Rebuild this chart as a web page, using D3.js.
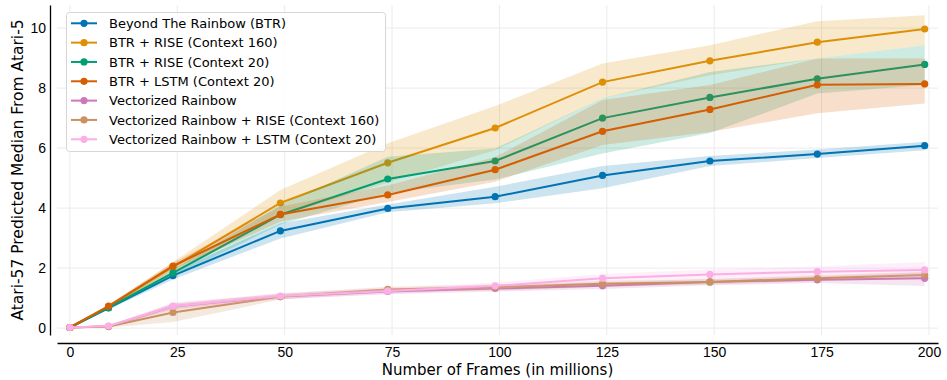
<!DOCTYPE html>
<html>
<head>
<meta charset="utf-8">
<script src="https://cdn.jsdelivr.net/npm/d3@7"></script>
<style>
  body { margin: 0; background: #fff; }
  svg { font-family: "DejaVu Sans", sans-serif; display: block; }
  .grid line { stroke: #ebebeb; stroke-width: 1; }
  .axis .domain { stroke: #000; stroke-width: 1.3; }
  .axis text { font-size: 14px; fill: #000; }
  .label { font-size: 15px; fill: #000; }
  .ylabel { font-size: 15.5px; }
  .legend text { font-size: 13px; fill: #000; }
</style>
</head>
<body>
<div id="chart"></div>
<script>
var frames = [0, 9, 24, 49, 74, 99, 124, 149, 174, 199];

var xTicks = [0, 25, 50, 75, 100, 125, 150, 175, 200],
    yTicks = [0, 2, 4, 6, 8, 10];

var names = [
  "Beyond The Rainbow (BTR)",
  "BTR + RISE (Context 160)",
  "BTR + RISE (Context 20)",
  "BTR + LSTM (Context 20)",
  "Vectorized Rainbow",
  "Vectorized Rainbow + RISE (Context 160)",
  "Vectorized Rainbow + LSTM (Context 20)"
];

// median, lower and upper bound per series
var btrMean = [0.02, 0.67, 1.75, 3.24, 3.99, 4.38, 5.09, 5.57, 5.80, 6.08],
    btrLo   = [0.02, 0.62, 1.62, 2.99, 3.86, 4.16, 4.66, 5.40, 5.67, 5.93],
    btrHi   = [0.02, 0.72, 1.88, 3.49, 4.12, 4.71, 5.40, 5.74, 5.95, 6.21];

var rise160Mean = [0.02, 0.72, 2.04, 4.17, 5.51, 6.67, 8.20, 8.91, 9.53, 9.97],
    rise160Lo   = [0.02, 0.66, 1.88, 3.75, 4.85, 5.93, 7.66, 8.43, 8.99, 9.43],
    rise160Hi   = [0.02, 0.78, 2.20, 4.60, 6.16, 7.40, 8.82, 9.43, 10.23, 10.43];

var rise20Mean = [0.02, 0.68, 1.84, 3.78, 4.97, 5.57, 7.00, 7.69, 8.31, 8.79],
    rise20Lo   = [0.02, 0.63, 1.72, 3.45, 4.50, 4.95, 5.82, 6.50, 7.82, 8.10],
    rise20Hi   = [0.02, 0.73, 1.96, 4.10, 5.71, 5.99, 7.66, 8.54, 8.99, 9.43];

var lstmMean = [0.02, 0.73, 2.07, 3.79, 4.44, 5.28, 6.56, 7.29, 8.11, 8.14],
    lstmLo   = [0.02, 0.68, 1.95, 3.55, 4.20, 4.88, 6.10, 6.54, 7.16, 7.49],
    lstmHi   = [0.02, 0.78, 2.18, 4.05, 4.75, 5.70, 7.60, 8.10, 8.99, 8.99];

var vrMean = [0.02, 0.06, 0.72, 1.05, 1.22, 1.32, 1.41, 1.54, 1.61, 1.66],
    vrLo   = [0.02, 0.03, 0.62, 0.96, 1.13, 1.22, 1.30, 1.43, 1.50, 1.40],
    vrHi   = [0.02, 0.09, 0.82, 1.14, 1.31, 1.42, 1.52, 1.65, 1.72, 1.85];

var vrRiseMean = [0.02, 0.05, 0.52, 1.05, 1.29, 1.36, 1.48, 1.54, 1.66, 1.77],
    vrRiseLo   = [0.02, 0.02, 0.20, 0.95, 1.20, 1.25, 1.38, 1.45, 1.56, 1.65],
    vrRiseHi   = [0.02, 0.08, 0.80, 1.15, 1.38, 1.45, 1.58, 1.63, 1.76, 1.88];

var vrLstmMean = [0.02, 0.07, 0.73, 1.07, 1.24, 1.41, 1.66, 1.79, 1.88, 1.94],
    vrLstmLo   = [0.02, 0.04, 0.63, 0.97, 1.14, 1.30, 1.54, 1.66, 1.72, 1.72],
    vrLstmHi   = [0.02, 0.10, 0.85, 1.17, 1.34, 1.52, 1.80, 1.95, 2.05, 2.20];

var colors = ["#0173b2", "#de8f05", "#029e73", "#d55e00", "#cc78bc", "#ca9161", "#fbafe4"];

var series = [
  {mean: btrMean, lo: btrLo, hi: btrHi},
  {mean: rise160Mean, lo: rise160Lo, hi: rise160Hi},
  {mean: rise20Mean, lo: rise20Lo, hi: rise20Hi},
  {mean: lstmMean, lo: lstmLo, hi: lstmHi},
  {mean: vrMean, lo: vrLo, hi: vrHi},
  {mean: vrRiseMean, lo: vrRiseLo, hi: vrRiseHi},
  {mean: vrLstmMean, lo: vrLstmLo, hi: vrLstmHi}
].map(function(s, i) {
  return {
    name: names[i],
    color: colors[i],
    points: frames.map(function(f, j) { return {x: f, y: s.mean[j], lo: s.lo[j], hi: s.hi[j]}; })
  };
});

var width = 947,
    height = 380,
    plotLeft = 57, plotRight = 938, plotTop = 5, plotBottom = 335;

var x = d3.scaleLinear().domain([-3, 202.1]).range([plotLeft, plotRight]);
var y = d3.scaleLinear().domain([-0.23, 10.77]).range([plotBottom, plotTop]);

var svg = d3.select("#chart").append("svg")
    .attr("width", width)
    .attr("height", height);

// grid
var grid = svg.append("g").attr("class", "grid");
grid.selectAll(".vx")
    .data(xTicks)
  .enter().append("line")
    .attr("x1", function(d) { return x(d); })
    .attr("x2", function(d) { return x(d); })
    .attr("y1", plotTop)
    .attr("y2", plotBottom);
grid.selectAll(".hy")
    .data(yTicks)
  .enter().append("line")
    .attr("x1", plotLeft)
    .attr("x2", plotRight)
    .attr("y1", function(d) { return y(d); })
    .attr("y2", function(d) { return y(d); });

var area = d3.area()
    .x(function(d) { return x(d.x); })
    .y0(function(d) { return y(d.lo); })
    .y1(function(d) { return y(d.hi); });

var line = d3.line()
    .x(function(d) { return x(d.x); })
    .y(function(d) { return y(d.y); });

var plot = svg.selectAll(".series")
    .data(series)
  .enter().append("g")
    .attr("class", "series");

plot.append("path")
    .attr("d", function(d) { return area(d.points); })
    .attr("fill", function(d) { return d.color; })
    .attr("fill-opacity", 0.2)
    .attr("stroke", "none");

plot.append("path")
    .attr("d", function(d) { return line(d.points); })
    .attr("fill", "none")
    .attr("stroke", function(d) { return d.color; })
    .attr("stroke-width", 2);

plot.selectAll("circle")
    .data(function(d) { return d.points.map(function(p) { return {p: p, c: d.color}; }); })
  .enter().append("circle")
    .attr("cx", function(d) { return x(d.p.x); })
    .attr("cy", function(d) { return y(d.p.y); })
    .attr("r", 3.6)
    .attr("fill", function(d) { return d.c; });

// axes (offset spines)
var xAxis = d3.axisBottom(x).tickValues(xTicks).tickSize(0).tickPadding(4);
var yAxis = d3.axisLeft(y).tickValues(yTicks).tickSize(0).tickPadding(4);

svg.append("g")
    .attr("class", "x axis")
    .attr("transform", "translate(0,343)")
    .call(xAxis);

svg.append("g")
    .attr("class", "y axis")
    .attr("transform", "translate(50,0)")
    .call(yAxis);

svg.append("text")
    .attr("class", "label")
    .attr("x", (plotLeft + plotRight) / 2)
    .attr("y", 375)
    .attr("text-anchor", "middle")
    .text("Number of Frames (in millions)");

svg.append("text")
    .attr("class", "label ylabel")
    .attr("transform", "translate(23," + (plotTop + plotBottom) / 2 + ") rotate(-90)")
    .attr("text-anchor", "middle")
    .text("Atari-57 Predicted Median From Atari-5");

// legend
var legend = svg.append("g").attr("class", "legend");

legend.append("rect")
    .attr("x", 66.5)
    .attr("y", 12.5)
    .attr("width", 319)
    .attr("height", 139)
    .attr("rx", 3)
    .attr("fill", "#fff")
    .attr("fill-opacity", 0.85)
    .attr("stroke", "#d6d6d6");

var item = legend.selectAll(".item")
    .data(series)
  .enter().append("g")
    .attr("class", "item")
    .attr("transform", function(d, i) { return "translate(0," + (23.3 + i * 19.33) + ")"; });

item.append("line")
    .attr("x1", 71)
    .attr("x2", 97)
    .attr("stroke", function(d) { return d.color; })
    .attr("stroke-width", 2);

item.append("circle")
    .attr("cx", 84)
    .attr("r", 3.6)
    .attr("fill", function(d) { return d.color; });

item.append("text")
    .attr("x", 109)
    .attr("dy", "0.35em")
    .text(function(d) { return d.name; });
</script>
</body>
</html>
